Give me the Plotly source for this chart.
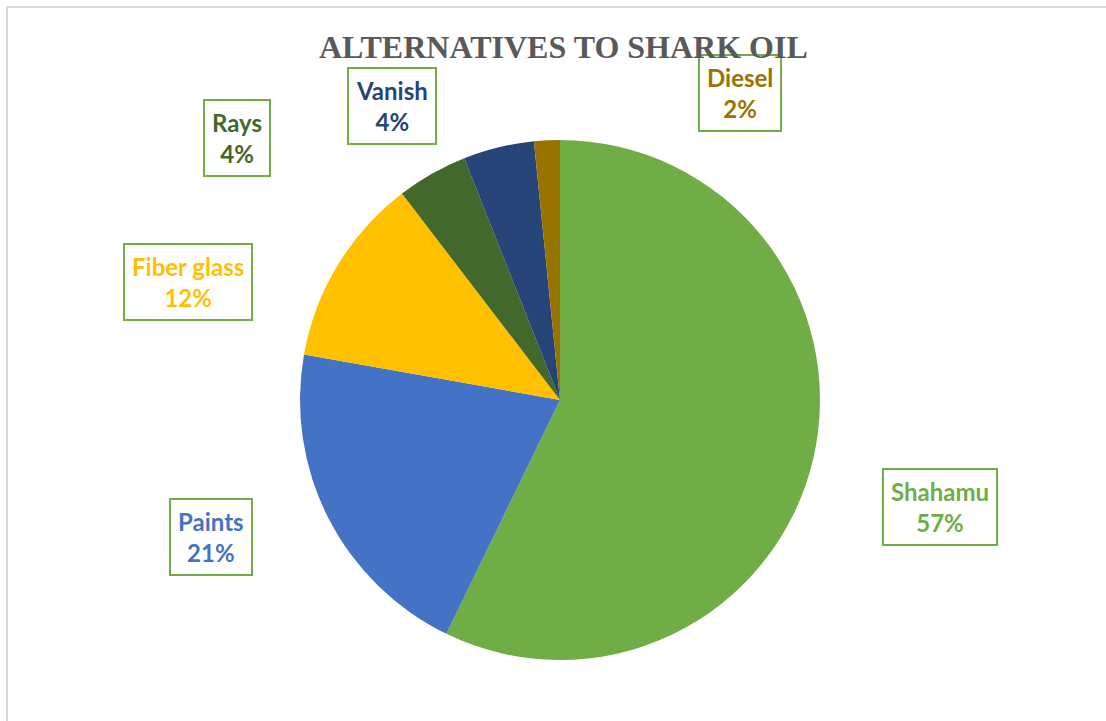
import plotly.graph_objects as go

W, H = 1106, 721

categories = ["Shahamu", "Paints", "Fiber glass", "Rays", "Vanish", "Diesel"]
values = [57.2, 20.6, 11.8, 4.4, 4.4, 1.6]
colors = ["#70AD47", "#4472C4", "#FFC000", "#43682B", "#264478", "#997300"]

# label box centres in pixels (layout positions)
label_pos = [(940, 507), (211, 537), (188, 282), (237, 138), (392, 106), (740, 93)]

total = sum(values)
pcts = [f"{v / total * 100:.0f}%" for v in values]

def px(x):
    return x / W

def py(y):
    return 1 - y / H

fig = go.Figure()
fig.add_trace(go.Pie(
    labels=categories,
    values=values,
    sort=False,
    direction="clockwise",
    rotation=0,
    marker=dict(colors=colors, line=dict(width=0)),
    textinfo="none",
    hoverinfo="label+percent",
    domain=dict(x=[px(300), px(820)], y=[py(660), py(140)]),
    showlegend=False,
))

annotations = []
for cat, pct, col, (cx, cy) in zip(categories, pcts, colors, label_pos):
    annotations.append(dict(
        x=px(cx), y=py(cy), xref="paper", yref="paper",
        xanchor="center", yanchor="middle",
        text=f"<b>{cat}</b><br><b>{pct}</b>",
        showarrow=False,
        font=dict(family="Lato, Open Sans, sans-serif", size=24, color=col),
        bordercolor="#70AD47", borderwidth=2, borderpad=7,
        bgcolor="white", align="center",
    ))

annotations.append(dict(
    x=px(563), y=py(47), xref="paper", yref="paper",
    xanchor="center", yanchor="middle",
    text="<b>ALTERNATIVES TO SHARK OIL</b>", showarrow=False,
    font=dict(family="Liberation Serif, Times New Roman, serif", size=32, color="#595959"),
))

fig.update_layout(
    width=W, height=H,
    margin=dict(l=0, r=0, t=0, b=0),
    paper_bgcolor="white",
    annotations=annotations,
    shapes=[
        dict(type="line", xref="paper", yref="paper", x0=px(7), x1=1, y0=py(7), y1=py(7),
             line=dict(color="#D9D9D9", width=2)),
        dict(type="line", xref="paper", yref="paper", x0=px(7), x1=px(7), y0=0, y1=py(7),
             line=dict(color="#D9D9D9", width=2)),
    ],
)

fig.write_html("out.html", config={"displayModeBar": False},
               post_script="document.body.style.margin='0';")
